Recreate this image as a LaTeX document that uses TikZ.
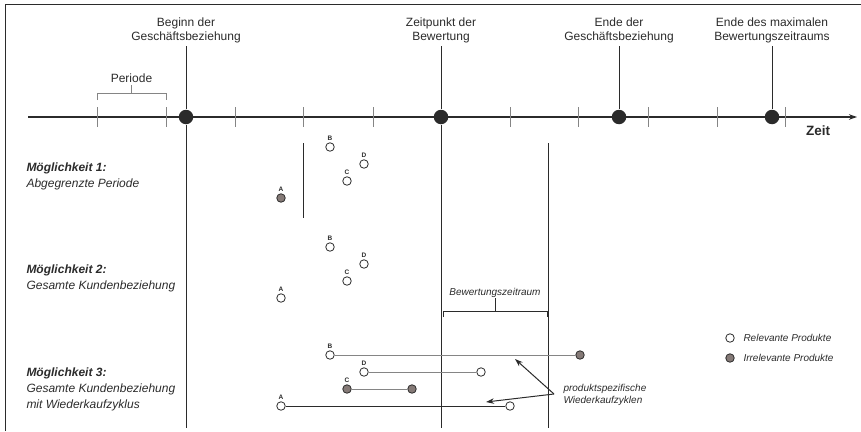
\documentclass[tikz,border=0pt]{standalone}
\usepackage{fontspec}
\setmainfont{Liberation Sans}
\usetikzlibrary{arrows.meta}
\definecolor{dunkel}{HTML}{2B2B2B}
\definecolor{braun}{HTML}{857A77}
\definecolor{hell}{HTML}{858585}

\begin{document}
\begin{tikzpicture}[x=1pt,y=-1pt,>={Stealth[length=8pt,width=5.5pt]},line width=1pt,color=dunkel]
  \tikzstyle{punkt}=[circle, fill=dunkel, inner sep=0pt, minimum size=14.5pt]
  \tikzstyle{titel}=[font=\fontsize{12}{14.5}\selectfont, align=center, inner sep=0pt, outer sep=3pt, anchor=south]
  \tikzstyle{tick}=[line width=0.8pt, draw=hell]
  \tikzstyle{moegl}=[font=\fontsize{12}{16}\selectfont\itshape, align=left, inner sep=0pt, anchor=base west]
  \tikzstyle{prod}=[circle, draw=dunkel, fill=white, line width=0.8pt, inner sep=0pt, minimum size=8.5pt]
  \tikzstyle{irr}=[prod, fill=braun]
  \tikzstyle{buchst}=[font=\fontsize{6.5}{7}\selectfont\bfseries, inner sep=0.5pt, label distance=1pt]
  \tikzstyle{klein}=[font=\fontsize{10}{11.5}\selectfont\itshape, inner sep=0pt]

  \useasboundingbox (0,0) rectangle (861,431);
  \draw (5,431) -- (5,4) -- (861,4);

  \coordinate (start) at (28,117);
  \coordinate (ziel) at (857,117);
  \draw[->, line width=1.1pt] (start) -- (ziel);
  \foreach \x in {97,166,235,303,373,510,578,648,717,785}
    \draw[tick] (\x,107) -- (\x,127);
  \node[font=\fontsize{13.5}{16}\selectfont\bfseries] (zeit) at (818,131) {Zeit};

  \node[titel] (begtxt) at (186,46) {Beginn der\\Geschäftsbeziehung};
  \node[titel] (bewtxt) at (441,46) {Zeitpunkt der\\Bewertung};
  \node[titel] (endtxt) at (619,46) {Ende der\\Geschäftsbeziehung};
  \node[titel] (maxtxt) at (772,46) {Ende des maximalen\\Bewertungszeitraums};
  \node[punkt] (beg) at (186,117) {};
  \node[punkt] (bew) at (441,117) {};
  \node[punkt] (ende) at (619,117) {};
  \node[punkt] (max) at (772,117) {};
  \coordinate (begunten) at (186,428);
  \coordinate (bewunten) at (441,428);
  \draw (begtxt) -- (beg) -- (begunten);
  \draw (bewtxt) -- (bew) -- (bewunten);
  \draw (endtxt) -- (ende);
  \draw (maxtxt) -- (max);

  \node[titel, anchor=base] (per) at (131.5,82) {Periode};
  \coordinate (perm) at (131.5,93);
  \draw[tick] (97,100) -- (97,93) -- (166,93) -- (166,100);
  \draw[tick] (per) -- (perm);

  \node[moegl] (m1) at (26,187) {\textbf{Möglichkeit 1:}\\Abgegrenzte Periode};
  \node[moegl] (m2) at (26,289) {\textbf{Möglichkeit 2:}\\Gesamte Kundenbeziehung};
  \node[moegl] (m3) at (26,408) {\textbf{Möglichkeit 3:}\\Gesamte Kundenbeziehung\\mit Wiederkaufzyklus};

  \coordinate (p1o) at (303,143);
  \coordinate (p1u) at (303,218);
  \draw (p1o) -- (p1u);
  \coordinate (bzo) at (548,143);
  \coordinate (bzu) at (548,428);
  \draw (bzo) -- (bzu);

  \node[prod, label={[buchst]90:B}] (b1) at (330,147) {};
  \node[prod, label={[buchst]90:D}] (d1) at (364,164) {};
  \node[prod, label={[buchst]90:C}] (c1) at (347,181) {};
  \node[irr, label={[buchst]90:A}] (a1) at (281,198) {};

  \node[prod, label={[buchst]90:B}] (b2) at (330,247) {};
  \node[prod, label={[buchst]90:D}] (d2) at (364,264) {};
  \node[prod, label={[buchst]90:C}] (c2) at (347,281) {};
  \node[prod, label={[buchst]90:A}] (a2) at (281,298) {};

  \node[klein] (bz) at (495,293) {Bewertungszeitraum};
  \coordinate (bzm) at (495,311);
  \draw[line width=0.8pt] (443,317) -- (443,311) -- (547,311) -- (547,317);
  \draw[line width=0.8pt] (bz) -- (bzm);

  \node[prod, label={[buchst]90:B}] (b3) at (330,355) {};
  \node[irr] (b3e) at (580,355) {};
  \node[prod, label={[buchst]90:D}] (d3) at (364,372) {};
  \node[prod] (d3e) at (481,372) {};
  \node[irr, label={[buchst]90:C}] (c3) at (347,389) {};
  \node[irr] (c3e) at (412,389) {};
  \node[prod, label={[buchst]90:A}] (a3) at (281,406) {};
  \node[prod] (a3e) at (510,406) {};
  \draw[hell] (b3) -- (b3e);
  \draw[hell] (d3) -- (d3e);
  \draw[hell] (c3) -- (c3e);
  \draw (a3) -- (a3e);

  \node[klein, align=left, anchor=west] (wkz) at (563,395) {produktspezifische\\Wiederkaufzyklen};
  \coordinate (wk) at (554,394);
  \coordinate (pb) at (515,359);
  \coordinate (pa) at (486,402);
  \draw[->] (wk) -- (pb);
  \draw[->] (wk) -- (pa);

  \node[prod] (lr) at (730,338) {};
  \node[klein, anchor=west] (lrt) at (743,338) {Relevante Produkte};
  \node[irr] (li) at (730,358) {};
  \node[klein, anchor=west] (lit) at (743,358) {Irrelevante Produkte};
\end{tikzpicture}
\end{document}
